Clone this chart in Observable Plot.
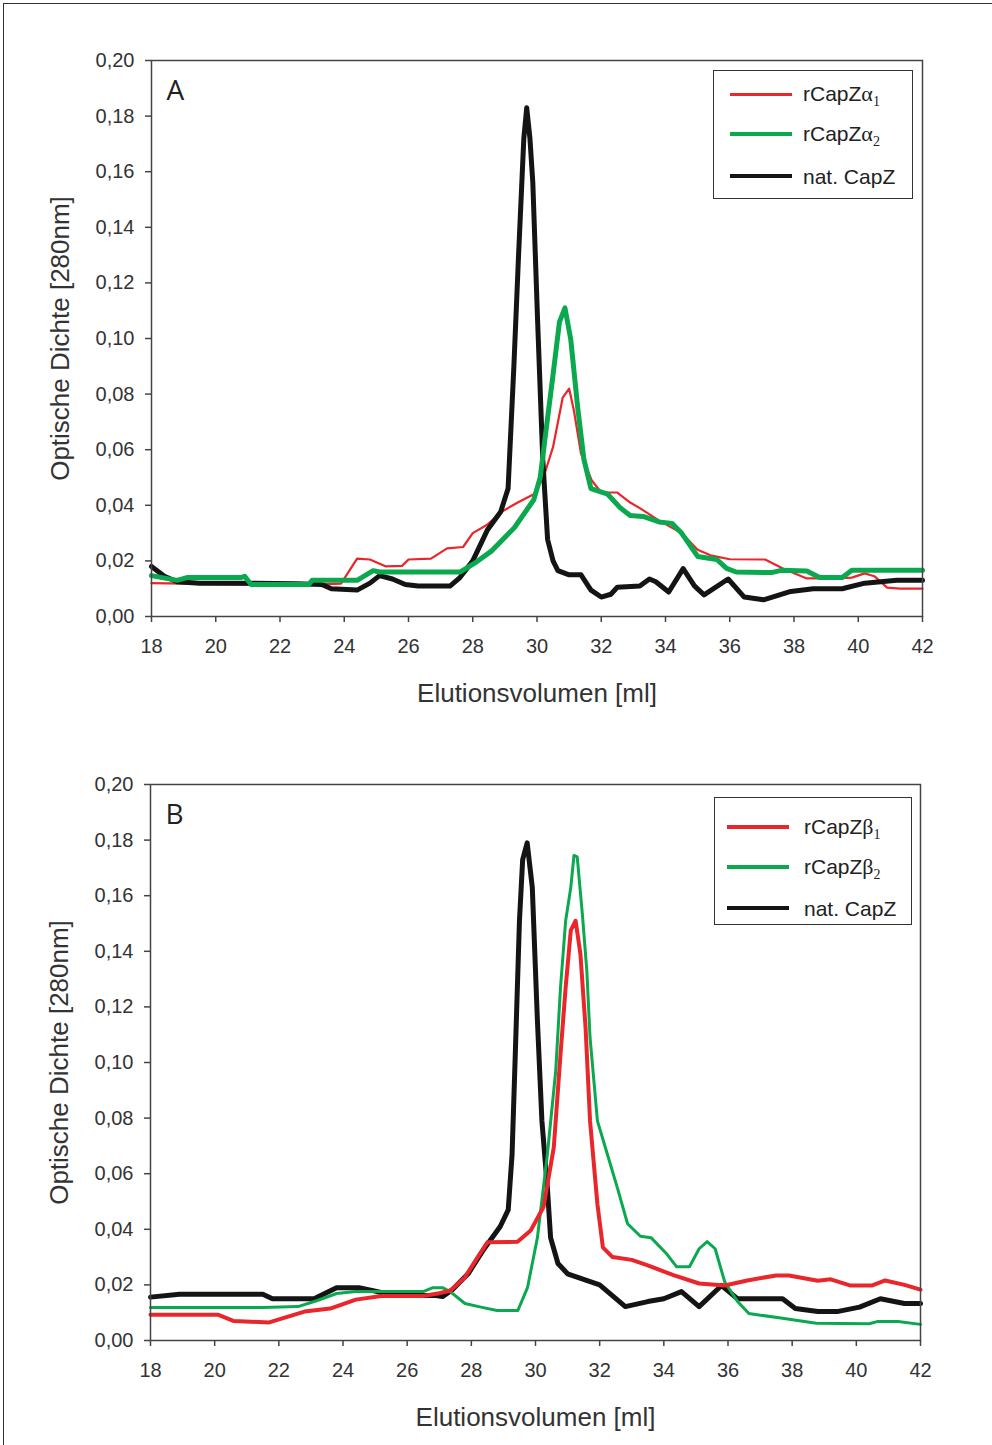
<!DOCTYPE html>
<html><head><meta charset="utf-8">
<script src="https://cdn.jsdelivr.net/npm/d3@7"></script>
<script src="https://cdn.jsdelivr.net/npm/@observablehq/plot@0.6"></script>
<style>
body{margin:0;background:#fff;}
#page{position:relative;width:992px;height:1445px;overflow:hidden;background:#fff;}
#border{position:absolute;left:3px;top:3px;width:1000px;height:1460px;border-left:1.5px solid #333;border-top:1.5px solid #333;box-sizing:border-box;z-index:5;pointer-events:none;}
.panel{position:absolute;left:0;}
.legend{position:absolute;border:1.5px solid #333;background:#fff;font-family:"Liberation Sans",Arial,sans-serif;font-size:21px;color:#222;box-sizing:border-box;}
.legend .ln{position:absolute;}
.legend .lb{position:absolute;white-space:nowrap;line-height:1;transform:translateY(-50%);}
.gr{font-family:"Liberation Serif","DejaVu Serif",serif;font-size:22px;}
.sb{font-family:"Liberation Serif","DejaVu Serif",serif;font-size:14px;position:relative;top:5px;}
</style></head>
<body><div id="page"></div>
<script>
// ---------- data ----------
const xTicks = [18, 20, 22, 24, 26, 28, 30, 32, 34, 36, 38, 40, 42];
const yTicks = [0, 0.02, 0.04, 0.06, 0.08, 0.10, 0.12, 0.14, 0.16, 0.18, 0.20];
const xLabel = "Elutionsvolumen [ml]";
const yLabel = "Optische Dichte [280nm]";

// Panel A
const aNat = [[18,0.0180],[18.4,0.0145],[18.8,0.0125],[19.5,0.0120],[21,0.0120],[22.5,0.0118],[23.3,0.0115],[23.6,0.0100],[24.4,0.0095],[24.8,0.0120],[25.1,0.0147],[25.5,0.0135],[25.9,0.0115],[26.3,0.0110],[27.3,0.0110],[27.6,0.0140],[28.0,0.0200],[28.45,0.0310],[28.87,0.0377],[29.1,0.046],[29.28,0.090],[29.43,0.131],[29.59,0.172],[29.68,0.183],[29.78,0.172],[29.87,0.156],[30.02,0.106],[30.18,0.0565],[30.33,0.0277],[30.5,0.020],[30.65,0.0165],[31.0,0.0150],[31.37,0.0150],[31.68,0.0095],[32.0,0.0070],[32.3,0.0080],[32.5,0.0105],[33.2,0.0110],[33.5,0.0135],[33.7,0.0125],[34.1,0.0088],[34.55,0.0172],[34.9,0.011],[35.2,0.0078],[35.95,0.0135],[36.45,0.0070],[37.05,0.0060],[37.9,0.0090],[38.6,0.0100],[39.5,0.0100],[40.2,0.0120],[41.2,0.0130],[42,0.0130]];
const aAlpha1 = [[18,0.0120],[19,0.0118],[21,0.0115],[23,0.0115],[23.9,0.0118],[24.4,0.0208],[24.8,0.0205],[25.3,0.0180],[25.8,0.0182],[26.0,0.0205],[26.7,0.0208],[27.2,0.0245],[27.7,0.0250],[28.0,0.0300],[28.45,0.0330],[28.9,0.0377],[29.4,0.0410],[29.9,0.0440],[30.2,0.0500],[30.5,0.0610],[30.8,0.0787],[31.0,0.0820],[31.15,0.0740],[31.37,0.0586],[31.7,0.0490],[32.0,0.0446],[32.5,0.0446],[32.9,0.0410],[33.2,0.0390],[33.8,0.0345],[34.5,0.0300],[35.0,0.0240],[35.4,0.0220],[36.0,0.0206],[37.1,0.0205],[37.7,0.0170],[38.4,0.0137],[39.2,0.0137],[39.8,0.0140],[40.2,0.0155],[40.5,0.0145],[40.9,0.0104],[41.3,0.0100],[42,0.0100]];
const aAlpha2 = [[18,0.0147],[18.8,0.0130],[19.1,0.0140],[20.8,0.0140],[20.9,0.0145],[21.1,0.0115],[22.9,0.0115],[23.0,0.0130],[24.4,0.0130],[24.9,0.0165],[25.1,0.0160],[27.6,0.0160],[28.1,0.0195],[28.6,0.0237],[29.3,0.0320],[29.9,0.0420],[30.1,0.0500],[30.3,0.0687],[30.5,0.0870],[30.7,0.1060],[30.87,0.1110],[31.05,0.0997],[31.27,0.0748],[31.46,0.0565],[31.68,0.0460],[32.2,0.0440],[32.6,0.0390],[32.9,0.0363],[33.3,0.0360],[33.8,0.0340],[34.2,0.0335],[34.5,0.0300],[35.0,0.0216],[35.6,0.0205],[35.9,0.0173],[36.2,0.0160],[37.3,0.0158],[37.6,0.0166],[38.4,0.0164],[38.8,0.0140],[39.5,0.0140],[39.8,0.0166],[42,0.0166]];

// Panel B
const bNat = [[18,0.0156],[18.9,0.0166],[21.5,0.0166],[21.8,0.0150],[23.1,0.0150],[23.8,0.0190],[24.5,0.0190],[25.3,0.0170],[25.7,0.0162],[26.9,0.0162],[27.1,0.0158],[27.4,0.0182],[27.9,0.0240],[28.4,0.0330],[28.9,0.0410],[29.15,0.0470],[29.27,0.067],[29.37,0.103],[29.5,0.151],[29.6,0.173],[29.74,0.179],[29.9,0.163],[30.06,0.115],[30.2,0.079],[30.37,0.055],[30.47,0.037],[30.7,0.0277],[31.0,0.0240],[31.5,0.0220],[32.0,0.0200],[32.8,0.0122],[33.5,0.0140],[34.0,0.0150],[34.55,0.0176],[35.1,0.0122],[35.8,0.0198],[36.3,0.0150],[37.7,0.0150],[38.1,0.0115],[38.8,0.0104],[39.4,0.0104],[40.1,0.0120],[40.75,0.0150],[41.5,0.0133],[42,0.0133]];
const bBeta1 = [[18,0.0093],[20.1,0.0093],[20.6,0.0070],[21.7,0.0065],[22.8,0.0104],[23.6,0.0115],[24.4,0.0147],[25.2,0.0160],[26.5,0.0160],[27.0,0.0170],[27.35,0.0180],[27.8,0.0227],[28.2,0.0300],[28.5,0.0353],[29.44,0.0355],[29.85,0.0396],[30.25,0.0480],[30.57,0.0695],[30.78,0.103],[30.94,0.127],[31.1,0.1475],[31.25,0.151],[31.4,0.139],[31.56,0.1126],[31.7,0.079],[31.93,0.049],[32.1,0.0335],[32.4,0.0300],[33.0,0.0290],[33.5,0.0270],[34.3,0.0235],[35.1,0.0205],[35.9,0.0198],[36.6,0.0216],[37.5,0.0234],[37.9,0.0234],[38.8,0.0215],[39.2,0.0220],[39.8,0.0198],[40.5,0.0198],[40.9,0.0216],[41.5,0.0200],[42,0.0183]];
const bBeta2 = [[18,0.0119],[21.5,0.0119],[22.6,0.0122],[23.2,0.0144],[23.8,0.0169],[24.4,0.0176],[26.5,0.0176],[26.8,0.0190],[27.1,0.0190],[27.35,0.0175],[27.8,0.0133],[28.3,0.0120],[28.8,0.0108],[29.45,0.0108],[29.75,0.0190],[30.06,0.037],[30.37,0.067],[30.63,0.097],[30.78,0.127],[30.94,0.151],[31.1,0.163],[31.2,0.1745],[31.3,0.174],[31.46,0.1535],[31.6,0.133],[31.7,0.109],[31.93,0.079],[32.24,0.067],[32.55,0.055],[32.87,0.042],[33.27,0.0375],[33.6,0.0370],[34.1,0.031],[34.4,0.0265],[34.8,0.0265],[35.1,0.033],[35.35,0.0356],[35.6,0.033],[35.9,0.021],[36.3,0.0140],[36.65,0.0097],[37.7,0.0080],[38.75,0.0062],[40.4,0.0060],[40.65,0.0068],[41.3,0.0068],[42,0.0058]];

const RED = "#e8262b", GREEN = "#0aa84f", BLACK = "#141414";

// ---------- drawing ----------
const fmt = d => d.toFixed(2).replace(".", ",");
function makePanel({height, mt, mb, ml, mr, letter, lines}) {
  return Plot.plot({
    width: 992, height,
    marginTop: mt, marginBottom: mb, marginLeft: ml, marginRight: mr,
    style: {fontFamily: '"Liberation Sans", Arial, sans-serif', fontSize: "20px", color: "#333", background: "transparent"},
    x: {domain: [18, 42]},
    y: {domain: [0, 0.2]},
    marks: [
      ...lines.map(l => Plot.line(l.data, {x: d => d[0], y: d => d[1], stroke: l.color, strokeWidth: l.w, strokeLinejoin: "round", strokeLinecap: "round"})),
      Plot.frame({stroke: "#444", strokeWidth: 1.5}),
      Plot.axisX({ticks: xTicks, tickSize: 6, tickPadding: 16, tickFormat: d => String(d), label: null, stroke: "#444", strokeWidth: 1.5}),
      Plot.axisY({ticks: yTicks, tickSize: 6, tickPadding: 11, tickFormat: fmt, label: null, stroke: "#444", strokeWidth: 1.5}),
      Plot.text([xLabel], {frameAnchor: "bottom", dy: 85, fontSize: 26, fill: "#333", text: d => d}),
      Plot.text([yLabel], {frameAnchor: "left", textAnchor: "middle", dx: -91, rotate: -90, fontSize: 26, fill: "#333", text: d => d}),
      Plot.text([letter], {frameAnchor: "top-left", dx: 15, dy: 20, textAnchor: "start", fontSize: 28, fontFamily: '"Open Sans", sans-serif', fill: "#222", text: d => d})
    ]
  });
}

const page = document.getElementById("page");
const pA = makePanel({height: 722, mt: 60, mb: 106, ml: 151, mr: 70, letter: "A",
  lines: [{data: aAlpha1, color: RED, w: 2.2}, {data: aNat, color: BLACK, w: 5}, {data: aAlpha2, color: GREEN, w: 5}]});
pA.classList.add("panel"); pA.style.top = "0px";
page.appendChild(pA);
const pB = makePanel({height: 723, mt: 62, mb: 105, ml: 150, mr: 72, letter: "B",
  lines: [{data: bNat, color: BLACK, w: 5}, {data: bBeta2, color: GREEN, w: 3}, {data: bBeta1, color: RED, w: 4}]});
pB.classList.add("panel"); pB.style.top = "722px";
page.appendChild(pB);
const border = document.createElement("div");
border.id = "border";
page.appendChild(border);

// ---------- legends ----------
function legend(left, top, w, h, items) {
  const box = document.createElement("div");
  box.className = "legend";
  Object.assign(box.style, {left: left + "px", top: top + "px", width: w + "px", height: h + "px"});
  items.forEach(it => {
    const ln = document.createElement("div");
    ln.className = "ln";
    Object.assign(ln.style, {left: it.lx + "px", top: (it.y - it.lw / 2) + "px", width: "62px", height: it.lw + "px", background: it.color});
    box.appendChild(ln);
    const lb = document.createElement("div");
    lb.className = "lb";
    Object.assign(lb.style, {left: "89px", top: it.y + "px"});
    lb.innerHTML = it.html;
    box.appendChild(lb);
  });
  page.appendChild(box);
}
const legendA = [
  {html: 'rCapZ<span class="gr">α</span><span class="sb">1</span>', color: RED},
  {html: 'rCapZ<span class="gr">α</span><span class="sb">2</span>', color: GREEN},
  {html: 'nat. CapZ', color: BLACK}
];
const legendB = [
  {html: 'rCapZ<span class="gr">β</span><span class="sb">1</span>', color: RED},
  {html: 'rCapZ<span class="gr">β</span><span class="sb">2</span>', color: GREEN},
  {html: 'nat. CapZ', color: BLACK}
];
legend(713, 70, 200, 129, legendA.map((d, i) => ({...d, lx: 16, lw: [3, 4, 4][i], y: [23, 63, 105][i]})));
legend(714, 797, 198, 128, legendB.map((d, i) => ({...d, lx: 12, lw: [4, 4, 4][i], y: [29, 69, 110][i]})));
</script>
</body></html>
